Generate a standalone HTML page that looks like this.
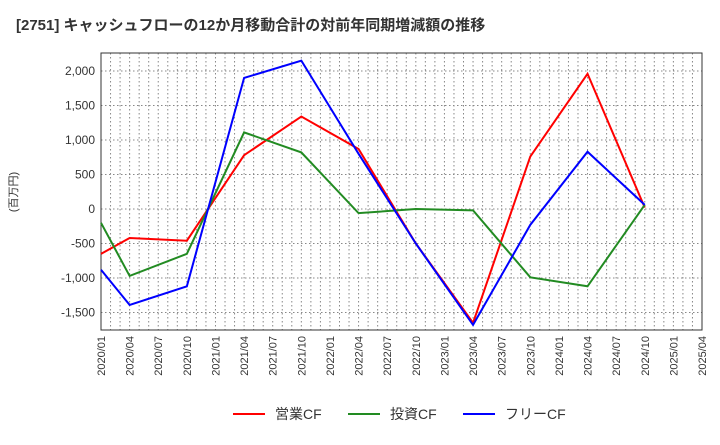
<!DOCTYPE html>
<html><head><meta charset="utf-8"><style>
body{margin:0;background:#fff;font-family:"Liberation Sans","Noto Sans CJK JP",sans-serif;}
</style></head><body>
<svg width="720" height="440" xmlns="http://www.w3.org/2000/svg" id="svg">
<text x="16" y="30" font-size="15" font-weight="bold" fill="#333" font-family="Liberation Sans, Noto Sans CJK JP, sans-serif">[2751]  キャッシュフローの12か月移動合計の対前年同期増減額の推移</text>
<text transform="translate(17,192) rotate(-90)" font-size="11" fill="#333" text-anchor="middle" font-family="Liberation Sans, Noto Sans CJK JP, sans-serif">(百万円)</text>
<g id="grid"></g><g id="axes"></g><g id="series"></g><g id="legend"></g>
</svg>
<script>
const categories=["2020/01","2020/04","2020/07","2020/10","2021/01","2021/04","2021/07","2021/10","2022/01","2022/04","2022/07","2022/10","2023/01","2023/04","2023/07","2023/10","2024/01","2024/04","2024/07","2024/10","2025/01","2025/04"];
const yTicks=[-1500,-1000,-500,0,500,1000,1500,2000];
const pointIdx=[0,1,3,5,7,9,11,13,15,17,19];
const opCF=[-650,-420,-460,780,1340,870,-500,-1650,760,1960,20];
const invCF=[-200,-970,-650,1110,820,-60,0,-20,-990,-1120,60];
const freeCF=[-880,-1390,-1120,1900,2150,800,-500,-1680,-230,830,60];
const L=101,R=702,T=53,B=330;
const xq=i=>L+(R-L)*i/21;
const y=v=>209-v*0.069;
const NS="http://www.w3.org/2000/svg";
function mk(tag,parent,attrs){const e=document.createElementNS(NS,tag);for(const k in attrs)e.setAttribute(k,attrs[k]);document.getElementById(parent).appendChild(e);return e;}
for(let m=1;m<63;m++){const x=L+(R-L)*m/63;const e=mk('line','grid',{x1:x,x2:x,y1:T,y2:B,stroke:'#888','stroke-dasharray':'1.5,2.5','stroke-width':1});

}
yTicks.forEach(v=>{const e=mk('line','grid',{x1:L,x2:R,y1:y(v),y2:y(v),stroke:'#888','stroke-dasharray':'1.5,2.5','stroke-width':1});


const t=mk('text','axes',{x:L-6,y:y(v)+4,'text-anchor':'end','font-size':12,fill:'#333'});t.textContent=v.toLocaleString('en-US');

});
categories.forEach((c,i)=>{const t=mk('text','axes',{transform:`translate(${xq(i)+4},${B+6}) rotate(-90)`,'text-anchor':'end','font-size':11,fill:'#333'});t.textContent=c;

});
const fr=mk('rect','axes',{x:L,y:T,width:R-L,height:B-T,fill:'none',stroke:'#333','stroke-width':1});


function series(vals,color,name){const pts=vals.map((v,i)=>xq(pointIdx[i])+','+y(v)).join(' ');
const p=mk('polyline','series',{points:pts,fill:'none',stroke:color,'stroke-width':2});

}
series(opCF,'#ff0000','operating-cf-line');
series(invCF,'#228b22','investing-cf-line');
series(freeCF,'#0000ff','free-cf-line');
[['営業CF','#ff0000',233,'legend-operating-cf'],['投資CF','#228b22',348,'legend-investing-cf'],['フリーCF','#0000ff',463,'legend-free-cf']].forEach(([lab,col,x,nm])=>{
const g=mk('g','legend',{});


const l=document.createElementNS(NS,'line');[['x1',x],['x2',x+32],['y1',414],['y2',414],['stroke',col],['stroke-width',2]].forEach(a=>l.setAttribute(a[0],a[1]));g.appendChild(l);
const t=document.createElementNS(NS,'text');[['x',x+42],['y',419],['font-size',14],['fill','#333']].forEach(a=>t.setAttribute(a[0],a[1]));t.textContent=lab;g.appendChild(t);});
</script>
</body></html>
